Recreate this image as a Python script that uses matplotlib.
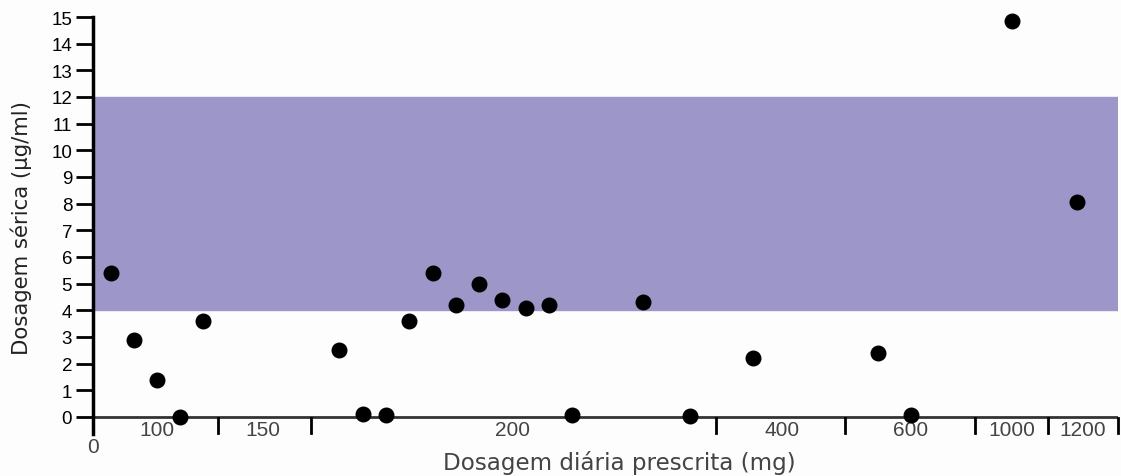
import matplotlib.pyplot as plt

plt.rcParams['font.family'] = ['Liberation Sans', 'DejaVu Sans']

# horizontal position of each sample along the (non-linear) dose axis, and serum level
posicao = [18, 41, 64, 87, 110, 246, 270, 293, 316, 340, 363, 386, 409, 433, 456, 479,
           550, 597, 660, 785, 818, 919, 984]
serica = [5.4, 2.9, 1.4, 0.0, 3.6, 2.5, 0.1, 0.07, 3.6, 5.4, 4.2, 5.0, 4.4, 4.1, 4.2, 0.07,
          4.3, 0.04, 2.2, 2.4, 0.07, 14.85, 8.05]

# dose tick labels and where they sit, plus separator marks
rotulos = ['100', '150', '200', '400', '600', '1000', '1200']
pos_rotulos = [64, 170, 419, 689, 818, 919, 990]
marcas = [125, 218, 623, 752, 882, 955, 1025]

faixa_min, faixa_max = 4, 12

fig = plt.figure(figsize=(11.21, 4.77), dpi=100, facecolor='#fdfdfd')
ax = fig.add_axes([93/1121, 41.7/477, 1025/1121, 417.3/477])
ax.set_facecolor('#fdfdfd')

ax.axhspan(faixa_min, faixa_max, color='#9d96c8', zorder=1)
ax.axhline(0, color='#333333', lw=2, zorder=2)
ax.scatter(posicao, serica, s=110, color='black', zorder=5, clip_on=False)

ax.set_xlim(0, 1025)
ax.set_ylim(-0.65, 15)

for s in ['top', 'right', 'bottom']:
    ax.spines[s].set_visible(False)
ax.spines['left'].set_linewidth(2.5)
ax.spines['left'].set_bounds(-0.65, 15)

ax.set_yticks(range(0, 16))
ax.tick_params(axis='y', length=12, width=2, labelsize=13.5, pad=3)

ax.set_xticks(pos_rotulos)
ax.set_xticklabels(rotulos, color='#444444', fontsize=15)
ax.tick_params(axis='x', which='major', length=0, pad=-10)
for m in marcas:
    ax.plot([m, m], [-0.05, -0.6], color='black', lw=2, clip_on=False, zorder=3)

ax.text(0, -1.1, '0', ha='center', va='center', fontsize=15, color='#444444')

fig.text(21/1121, 1 - 228/477, 'Dosagem sérica (µg/ml)', rotation=90,
         ha='center', va='center', fontsize=15.3, color='#222222', family='DejaVu Sans')
fig.text(619/1121, 1 - 470/477, 'Dosagem diária prescrita (mg)',
         ha='center', va='baseline', fontsize=16.6, color='#444444', family='DejaVu Sans')

fig.savefig('out.png', dpi=100, facecolor=fig.get_facecolor())
